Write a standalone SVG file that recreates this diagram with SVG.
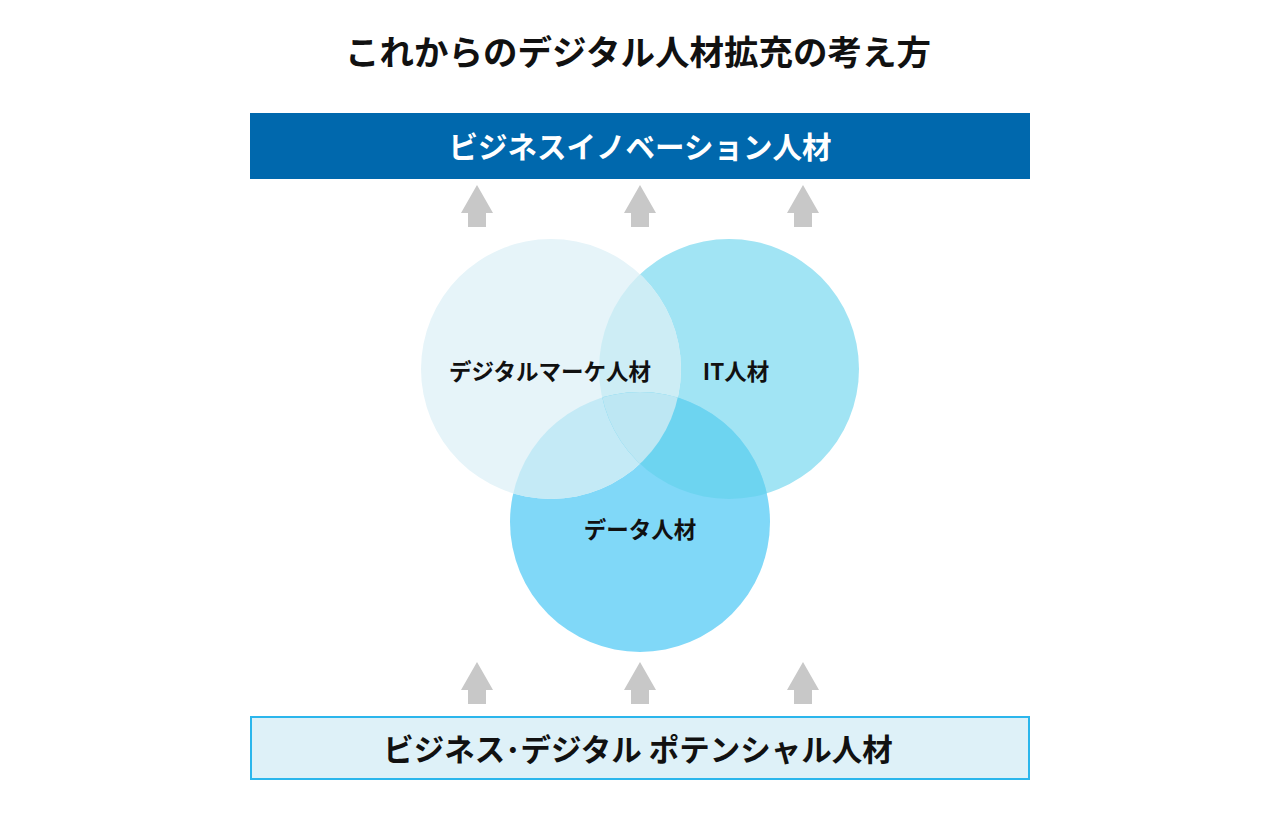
<svg xmlns="http://www.w3.org/2000/svg" width="1280" height="819" viewBox="0 0 1280 819">
<style>
.t{font-family:"Noto Sans CJK JP","Noto Sans",sans-serif;font-weight:700;text-anchor:middle;fill:#111}
.arrow{fill:#c8c8c8}
</style>
<defs>
<clipPath id="clipL"><circle cx="551" cy="369" r="130"/></clipPath>
<clipPath id="clipR"><circle cx="729" cy="369" r="130"/></clipPath>
<path id="arr" d="M0,0 L16,28 L9,28 L9,42 L-9,42 L-9,28 L-16,28 Z"/>
</defs>
<rect width="1280" height="819" fill="#fff"/>
<text class="t" x="638" y="65" font-size="34.5">これからのデジタル人材拡充の考え方</text>

<g id="top-node">
<rect x="250" y="113" width="780" height="66" fill="#0068ad"/>
<text class="t" x="640" y="158" font-size="29.5" style="fill:#fff">ビジネスイノベーション人材</text>
</g>

<g id="connectors">
<use href="#arr" x="477" y="185" class="arrow"/>
<use href="#arr" x="640" y="185" class="arrow"/>
<use href="#arr" x="803" y="185" class="arrow"/>
<use href="#arr" x="477" y="662" class="arrow"/>
<use href="#arr" x="640" y="662" class="arrow"/>
<use href="#arr" x="803" y="662" class="arrow"/>
</g>

<g id="venn">
<circle id="circle-it" cx="729" cy="369" r="130" fill="#a1e4f4"/>
<circle id="circle-data" cx="640" cy="522" r="130" fill="#80d8f8"/>
<circle id="circle-mk" cx="551" cy="369" r="130" fill="#e6f4f9"/>
<g clip-path="url(#clipL)"><circle cx="729" cy="369" r="130" fill="#cdedf5"/></g>
<g clip-path="url(#clipL)"><circle cx="640" cy="522" r="130" fill="#c4eaf6"/></g>
<g clip-path="url(#clipR)"><circle cx="640" cy="522" r="130" fill="#6dd4f0"/></g>
<g clip-path="url(#clipL)"><g clip-path="url(#clipR)"><circle cx="640" cy="522" r="130" fill="#bde7f3"/></g></g>
</g>

<g id="node-mk"><text class="t" x="550" y="380" font-size="22.5">デジタルマーケ人材</text></g>
<g id="node-it"><text class="t" x="736" y="380" font-size="22.5">IT人材</text></g>
<g id="node-data"><text class="t" x="640" y="538" font-size="22.5">データ人材</text></g>

<g id="bottom-node">
<rect x="251" y="717" width="778" height="62" fill="#def1f8" stroke="#2bb6ec" stroke-width="2"/>
<text class="t" x="638" y="761" font-size="30.5">ビジネス･デジタル ポテンシャル人材</text>
</g>
</svg>
